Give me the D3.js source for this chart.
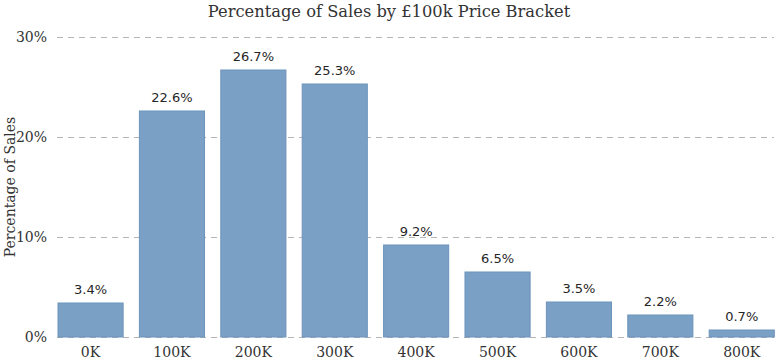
<!DOCTYPE html>
<html>
<head>
<meta charset="utf-8">
<script src="https://cdn.jsdelivr.net/npm/d3@7"></script>
<style>
  body { margin: 0; background: #fff; }
  svg { display: block; }
  .serif { font-family: "DejaVu Serif", Georgia, serif; fill: #333; }
  .val { font-family: "DejaVu Sans", Tahoma, sans-serif; font-size: 13px; fill: #262626; }
</style>
</head>
<body>
<svg id="chart" width="778" height="364"></svg>
<script>
// chart data
const brackets = ["0K", "100K", "200K", "300K", "400K", "500K", "600K", "700K", "800K"];
const shares = [3.4, 22.6, 26.7, 25.3, 9.2, 6.5, 3.5, 2.2, 0.7];
const yTicks = [0, 10, 20, 30];

const svg = d3.select("#chart");

const x = d3.scaleBand().domain(brackets).range([58, 774.3]).paddingInner(0.2).paddingOuter(0);
const y = d3.scaleLinear().domain([0, 30]).range([337, 37]);

// dashed gridlines
svg.append("g")
  .selectAll("line")
  .data(yTicks)
  .enter()
  .append("line")
  .attr("x1", 57)
  .attr("x2", 774)
  .attr("y1", d => y(d) + 0.5)
  .attr("y2", d => y(d) + 0.5)
  .attr("stroke", "#b5b5b5")
  .attr("stroke-dasharray", "6,5");

// y tick labels
svg.append("g")
  .selectAll("text")
  .data(yTicks)
  .enter()
  .append("text")
  .attr("class", "serif")
  .attr("x", 47)
  .attr("y", d => y(d) + 5)
  .attr("text-anchor", "end")
  .style("font-size", "14px")
  .text(d => d + "%");

// bars
svg.append("g")
  .selectAll("rect")
  .data(shares)
  .enter()
  .append("rect")
  .attr("x", (d, i) => x(brackets[i]))
  .attr("y", d => y(d))
  .attr("width", x.bandwidth())
  .attr("height", d => y(0) - y(d))
  .attr("fill", "#7ba0c5")
  .attr("stroke", "#6d93bb")
  .attr("stroke-width", 1);

// value labels
svg.append("g")
  .selectAll("text")
  .data(shares)
  .enter()
  .append("text")
  .attr("class", "val")
  .attr("x", (d, i) => x(brackets[i]) + x.bandwidth() / 2)
  .attr("y", d => y(d) - 9)
  .attr("text-anchor", "middle")
  .text(d => d.toFixed(1) + "%");

// x labels
svg.append("g")
  .selectAll("text")
  .data(brackets)
  .enter()
  .append("text")
  .attr("class", "serif")
  .attr("x", d => x(d) + x.bandwidth() / 2)
  .attr("y", 357)
  .attr("text-anchor", "middle")
  .style("font-size", "14px")
  .text(d => d);

// titles
svg.append("text")
  .attr("class", "serif")
  .attr("x", 389)
  .attr("y", 17)
  .attr("text-anchor", "middle")
  .style("font-size", "16.3px")
  .text("Percentage of Sales by £100k Price Bracket");

svg.append("text")
  .attr("class", "serif")
  .attr("transform", "translate(15,187) rotate(-90)")
  .attr("text-anchor", "middle")
  .style("font-size", "14px")
  .text("Percentage of Sales");
</script>
</body>
</html>
